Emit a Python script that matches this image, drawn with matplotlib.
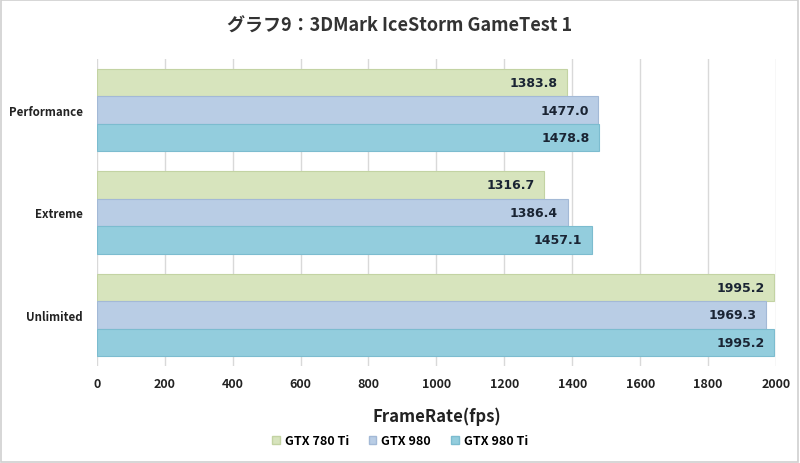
import matplotlib.pyplot as plt
from matplotlib.patches import Rectangle
import numpy as np

plt.rcParams['font.family'] = ['Noto Sans CJK JP', 'DejaVu Sans']

categories = ['Performance', 'Extreme', 'Unlimited']
series = ['GTX 780 Ti', 'GTX 980', 'GTX 980 Ti']
values = {
    'GTX 780 Ti': [1383.8, 1316.7, 1995.2],
    'GTX 980': [1477.0, 1386.4, 1969.3],
    'GTX 980 Ti': [1478.8, 1457.1, 1995.2],
}
colors = ['#d7e4bd', '#b9cde5', '#93cddd']
edges = ['#c3d3a3', '#a3b9d6', '#7cbccf']

fig = plt.figure(figsize=(8, 4.64), dpi=100)
ax = fig.add_axes([0.121, 0.209, 0.849, 0.662])

pos = np.array([2, 1, 0])
h = 0.268
for i, s in enumerate(series):
    y = pos + (1 - i) * h
    ax.barh(y, values[s], height=h, color=colors[i], edgecolor=edges[i],
            linewidth=0.8, label=s, zorder=2)
    for yy, v in zip(y, values[s]):
        ax.text(v - 28, yy, f'{v:.1f}', ha='right', va='center',
                fontsize=9, fontweight='semibold', color='#1a2433',
                family='DejaVu Sans', zorder=3)

ax.set_xlim(0, 2000)
ax.set_ylim(-0.5, 2.5)
ax.set_xticks(np.arange(0, 2001, 200))
ax.set_yticks(pos)
ax.set_yticklabels(categories)
ax.grid(axis='x', color='#d9d9d9', linewidth=1, zorder=0)
for sp in ax.spines.values():
    sp.set_visible(False)
ax.tick_params(length=0, labelsize=9, pad=8)
ax.tick_params(axis='y', labelsize=8.3, pad=10)
for lab in ax.get_xticklabels() + ax.get_yticklabels():
    lab.set_fontweight('bold')
    lab.set_color('#222222')

ax.set_xlabel('FrameRate(fps)', fontsize=12, fontweight='bold',
              color='#222222', labelpad=12)
fig.suptitle('グラフ9：3DMark IceStorm GameTest 1', y=0.965, fontsize=13,
             fontweight='bold', color='#333333')

handles = [Rectangle((0, 0), 1, 1, facecolor=colors[i], edgecolor=edges[i])
           for i in range(3)]
fig.legend(handles, series, loc='center', bbox_to_anchor=(0.5, 0.048),
           ncol=3, frameon=False, handlelength=0.6,
           handleheight=0.6, handletextpad=0.4, columnspacing=1.6,
           prop={'weight': 'bold', 'size': 9})

fig.add_artist(Rectangle((0.001, 0.002), 0.997, 0.996, transform=fig.transFigure,
                         fill=False, edgecolor='#d0d0d0', linewidth=1.2))

fig.savefig('out.png', dpi=100)
